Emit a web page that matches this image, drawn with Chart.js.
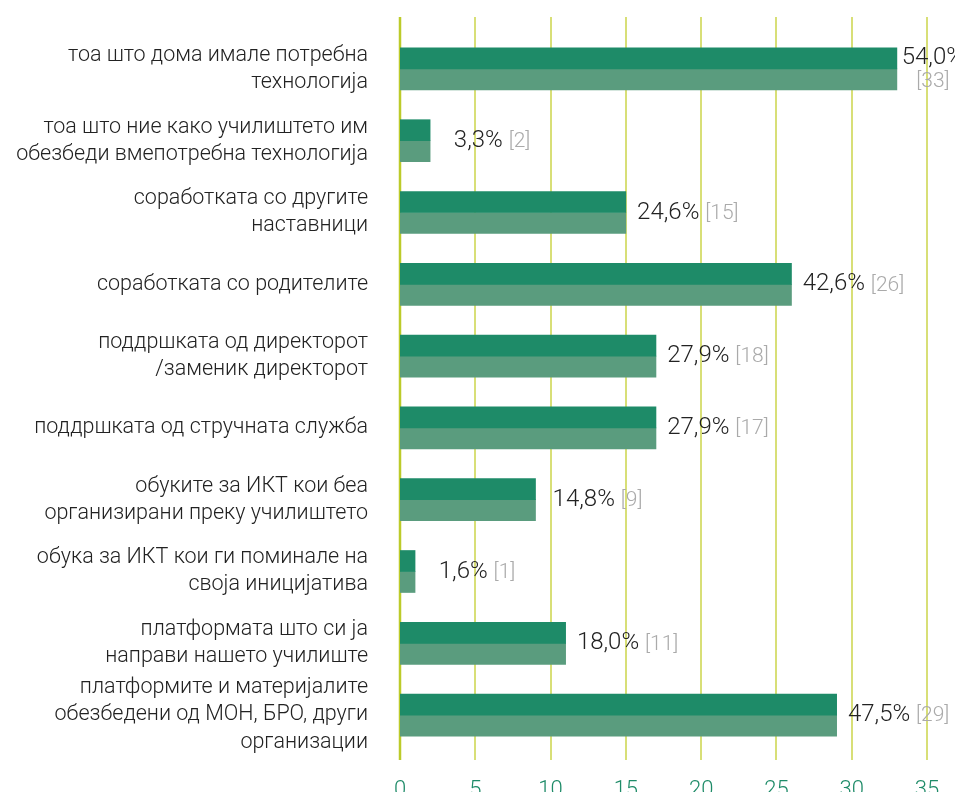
<!DOCTYPE html>
<html>
<head>
<meta charset="utf-8">
<script src="https://cdn.jsdelivr.net/npm/chart.js@4.4.0/dist/chart.umd.min.js"></script>
<style>
html, body { margin: 0; padding: 0; background: #fff; overflow: hidden; }
canvas { display: block; }
</style>
</head>
<body>
<canvas id="barchart" width="955" height="792"></canvas>
<script>
var categories = [
	['тоа што дома имале потребна', 'технологија'],
	['тоа што ние како училиштето им', 'обезбеди вмепотребна технологија'],
	['соработката со другите', 'наставници'],
	['соработката со родителите'],
	['поддршката од директорот', '/заменик директорот'],
	['поддршката од стручната служба'],
	['обуките за ИКТ кои беа', 'организирани преку училиштето'],
	['обука за ИКТ кои ги поминале на', 'своја иницијатива'],
	['платформата што си ја', 'направи нашето училиште'],
	['платформите и материјалите', 'обезбедени од МОН, БРО, други', 'организации']
];
var countsTop = [33, 2, 15, 26, 17, 17, 9, 1, 11, 29];
var countsBottom = [33, 2, 15, 26, 17, 17, 9, 1, 11, 29];
var percentLabels = ['54,0%', '3,3%', '24,6%', '42,6%', '27,9%', '27,9%', '14,8%', '1,6%', '18,0%', '47,5%'];
var countLabels = ['[33]', '[2]', '[15]', '[26]', '[18]', '[17]', '[9]', '[1]', '[11]', '[29]'];
var xTicks = [0, 5, 10, 15, 20, 25, 30, 35];

var FONT = 'Roboto';

/* vertical grid lines, running a bit above and below the plot */
var gridLines = {
	id: 'gridLines',
	beforeDatasetsDraw: function (chart) {
		var ctx = chart.ctx;
		var x = chart.scales.x;
		ctx.save();
		xTicks.forEach(function (t) {
			var px = Math.round(x.getPixelForValue(t));
			ctx.beginPath();
			ctx.strokeStyle = t === 0 ? '#bccb2a' : '#cbd54a';
			ctx.lineWidth = t === 0 ? 2.5 : 1.5;
			ctx.moveTo(px, 17);
			ctx.lineTo(px, 760);
			ctx.stroke();
		});
		ctx.restore();
	}
};

/* "54,0% [33]" labels next to the bars */
var valueLabels = {
	id: 'valueLabels',
	afterDatasetsDraw: function (chart) {
		var ctx = chart.ctx;
		var top = chart.getDatasetMeta(0).data;
		var bottom = chart.getDatasetMeta(1).data;
		var pctFont = '300 24px ' + FONT;
		var cntFont = '300 21px ' + FONT;
		ctx.save();
		ctx.textBaseline = 'middle';
		top.forEach(function (bar, i) {
			var end = Math.max(bar.x, bottom[i].x);
			var y = (bar.y + bottom[i].y) / 2;
			var pct = percentLabels[i] + ' ';
			var cnt = countLabels[i];
			ctx.font = pctFont;
			var w1 = ctx.measureText(pct).width;
			ctx.font = cntFont;
			var w2 = ctx.measureText(cnt).width;
			var cx = end + 62;
			if (cx + (w1 + w2) / 2 > chart.width) {
				// no room: put the count under the percentage
				cx = end + 36;
				ctx.textAlign = 'center';
				ctx.font = pctFont;
				ctx.fillStyle = '#222';
				ctx.fillText(percentLabels[i], cx, y - 11);
				ctx.font = cntFont;
				ctx.fillStyle = '#aaa';
				ctx.fillText(cnt, cx, y + 13);
			} else {
				var left = cx - (w1 + w2) / 2;
				ctx.textAlign = 'left';
				ctx.font = pctFont;
				ctx.fillStyle = '#222';
				ctx.fillText(pct, left, y);
				ctx.font = cntFont;
				ctx.fillStyle = '#aaa';
				ctx.fillText(cnt, left + w1, y + 1);
			}
		});
		ctx.restore();
	}
};

var barchart = document.getElementById('barchart').getContext('2d');
var myBarChart = new Chart(barchart, {
	type: 'bar',
	data: {
		labels: categories,
		datasets: [{
			data: countsTop,
			backgroundColor: '#1e8b68',
			barThickness: 21
		},
		{
			data: countsBottom,
			backgroundColor: '#5a9c7e',
			barThickness: 21
		}]
	},
	options: {
		indexAxis: 'y',
		responsive: false,
		animation: false,
		layout: {
			padding: { top: 33, right: 28, left: 0, bottom: 0 }
		},
		plugins: {
			legend: { display: false },
			tooltip: { enabled: false }
		},
		scales: {
			x: {
				min: 0,
				max: 35,
				afterBuildTicks: function (scale) {
					scale.ticks = xTicks.map(function (v) { return { value: v }; });
				},
				afterFit: function (scale) {
					scale.height = 41;
					scale.paddingLeft = 0;
					scale.paddingRight = 0;
				},
				grid: { display: false },
				border: { display: false },
				ticks: {
					color: '#1e8b68',
					padding: 18,
					font: { family: FONT, size: 22, weight: 300 }
				}
			},
			y: {
				afterFit: function (scale) {
					scale.width = 400;
					scale.paddingTop = 0;
					scale.paddingBottom = 0;
				},
				grid: { display: false, drawTicks: false },
				border: { display: false },
				ticks: {
					autoSkip: false,
					color: '#222',
					padding: 32,
					font: { family: FONT, size: 21.5, weight: 300, lineHeight: 1.26 }
				}
			}
		}
	},
	plugins: [gridLines, valueLabels]
});
</script>
</body>
</html>
